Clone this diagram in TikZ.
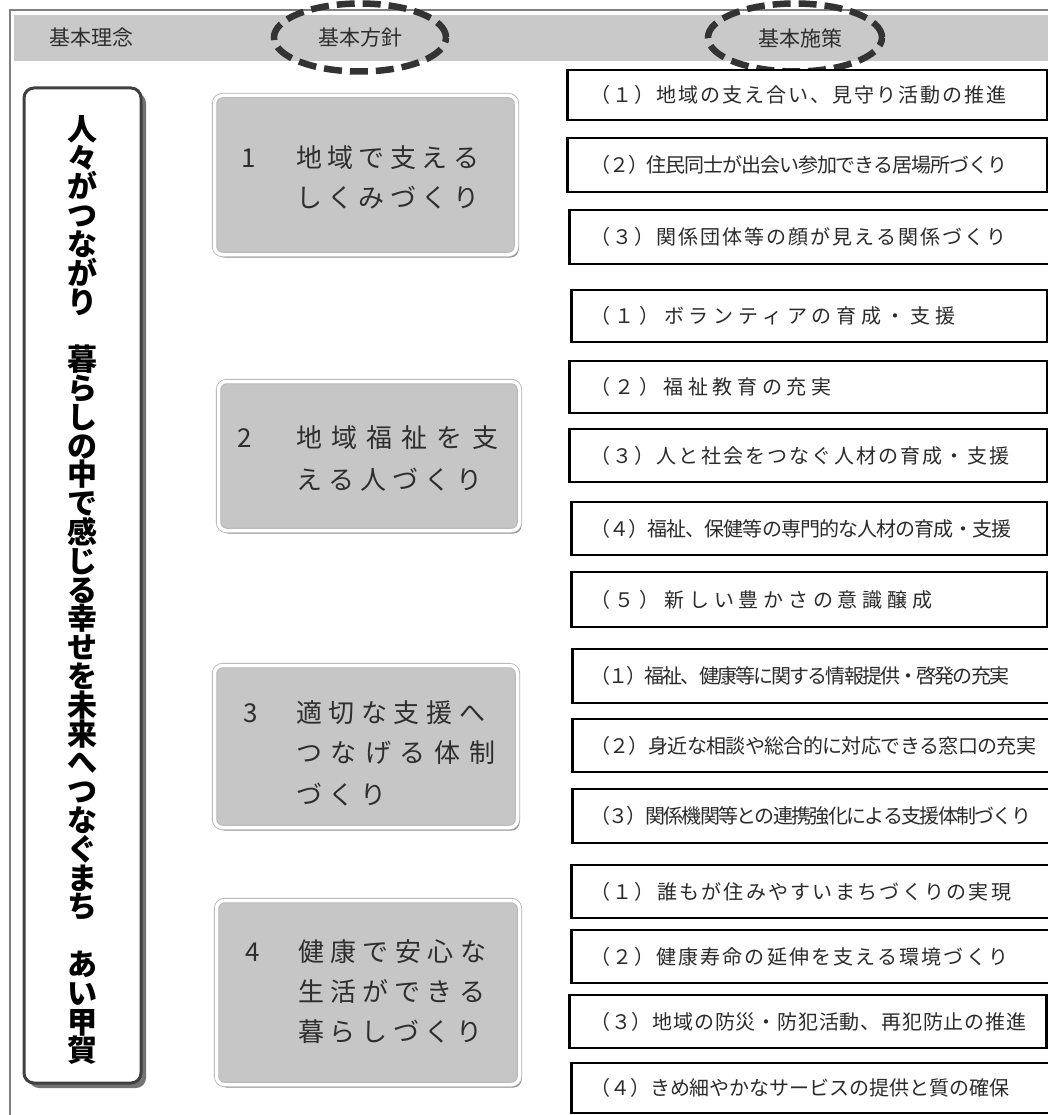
\documentclass[tikz,border=0pt]{standalone}
\usepackage{fontspec}
\setmainfont{Noto Sans CJK JP}
\newfontfamily\jp{Noto Sans CJK JP}
\usetikzlibrary{shapes.geometric,shadows}
\pgfdeclarelayer{bg}
\pgfsetlayers{bg,main}
\definecolor{rtxt}{HTML}{2B2B2B}
\definecolor{ptxt}{HTML}{2E2E2E}
\definecolor{hdrgray}{HTML}{C9C9C9}
\definecolor{pgray}{HTML}{C6C6C6}
\definecolor{frm}{HTML}{808080}
\definecolor{ellc}{HTML}{333333}
\makeatletter
\def\spr@ad#1{\ifx#1\relax\else#1\hskip 0pt plus 1fil minus 1fil\relax\expandafter\spr@ad\fi}
\newcommand\spreadto[2]{\hbox to #1{\spr@ad#2\relax\unskip}}
\def\vst@ck#1{\ifx#1\relax\else\hbox to 34pt{\hss#1\hss}\expandafter\vst@ck\fi}
\newcommand\vstack[1]{\vbox{\baselineskip=28.8pt\lineskiplimit=-100pt\lineskip=0pt\vst@ck#1\relax}}
\makeatother
\begin{document}
\begin{tikzpicture}[x=1pt,y=-1pt,
  frame/.style={draw=frm,line width=2pt},
  hdr/.style={fill=hdrgray,draw=none,inner sep=0,rectangle},
  htext/.style={font=\jp\fontsize{21}{24}\selectfont,text=ptxt,inner sep=0},
  dashell/.style={ellipse,draw=ellc,line width=6.5pt,dash pattern=on 18pt off 8pt,inner sep=0},
  lbox/.style={rectangle,rounded corners=10pt,draw=black!75,line width=3pt,fill=white,inner sep=0,
    drop shadow={shadow xshift=5pt,shadow yshift=-5pt,fill=black!55,opacity=1}},
  ltext/.style={font=\jp\bfseries\fontsize{30}{30}\selectfont,text=black,inner sep=0},
  pbox/.style={rectangle,rounded corners=8pt,draw=black!30,double=white,double distance=3.5pt,line width=0.8pt,
    fill=pgray,inner sep=0,drop shadow={shadow xshift=2pt,shadow yshift=-3pt,fill=black!45,opacity=1}},
  ptext/.style={font=\jp\fontsize{26}{30}\selectfont,text=ptxt,inner sep=0},
  rbox/.style={rectangle,draw=black,line width=2.6pt,fill=white,inner sep=0,anchor=west},
  rtext/.style={font=\jp\fontsize{20}{24}\selectfont,text=rtxt,inner sep=0,anchor=west},
  mainline/.style={draw=black,line width=4pt,line join=miter},
  subline/.style={draw=black,line width=1.4pt}]
\useasboundingbox (0,0) rectangle (1048,1115);
\fill[white] (0,0) rectangle (1048,1115);
% frame and header
\draw[frame] (9.5,1116) -- (9.5,10) -- (1049,10);
\node[hdr,minimum width=1036,minimum height=46,anchor=north west] (H) at (14,15) {};
\node[htext] (h1) at (91,38) {基本理念};
\node[htext] (h2) at (360,38) {基本方針};
\node[htext] (h3) at (800,38) {基本施策};
\node[dashell,minimum width=172,minimum height=68] (E1) at (360,37.5) {};
\node[dashell,minimum width=174,minimum height=68] (E2) at (795,37.5) {};
% left box
\node[lbox,minimum width=117,minimum height=995] (L) at (82.5,585.5) {};
\node[ltext] (LT) at (82,590) {\vstack{人々がつながり　暮らしの中で感じる幸せを未来へつなぐまち　あい甲賀}};
% policy boxes
\node[pbox,minimum width=302,minimum height=159] (P1) at (365.5,175) {};
\node[pbox,minimum width=301,minimum height=149] (P2) at (369,456) {};
\node[pbox,minimum width=303,minimum height=162] (P3) at (366,746.5) {};
\node[pbox,minimum width=303,minimum height=184] (P4) at (368,992.5) {};
\node[ptext] (P1n) at (249,158) {1};
\node[ptext,anchor=west] (P1a) at (296,158) {\spreadto{183pt}{地域で支える}};
\node[ptext,anchor=west] (P1b) at (296,198) {\spreadto{183pt}{しくみづくり}};
\node[ptext] (P2n) at (245,438) {2};
\node[ptext,anchor=west] (P2a) at (296,438) {\spreadto{202pt}{地域福祉を支}};
\node[ptext,anchor=west] (P2b) at (296,480) {\spreadto{186pt}{える人づくり}};
\node[ptext] (P3n) at (251,713) {3};
\node[ptext,anchor=west] (P3a) at (296,713) {\spreadto{189pt}{適切な支援へ}};
\node[ptext,anchor=west] (P3b) at (296,753) {\spreadto{199pt}{つなげる体制}};
\node[ptext,anchor=west] (P3c) at (296,795) {\spreadto{90pt}{づくり}};
\node[ptext] (P4n) at (253,952) {4};
\node[ptext,anchor=west] (P4a) at (298,952) {\spreadto{188pt}{健康で安心な}};
\node[ptext,anchor=west] (P4b) at (298,992) {\spreadto{187pt}{生活ができる}};
\node[ptext,anchor=west] (P4c) at (298,1032) {\spreadto{184pt}{暮らしづくり}};
% right boxes
\node[rbox,minimum width=480,minimum height=50] (R11) at (566,95) {};
\node[rbox,minimum width=480,minimum height=54] (R12) at (566,165) {};
\node[rbox,minimum width=484,minimum height=54] (R13) at (568,237) {};
\node[rbox,minimum width=476,minimum height=52] (R21) at (570,316) {};
\node[rbox,minimum width=478,minimum height=52] (R22) at (568,387) {};
\node[rbox,minimum width=478,minimum height=53] (R23) at (568,455.5) {};
\node[rbox,minimum width=476,minimum height=53] (R24) at (570,528.5) {};
\node[rbox,minimum width=476,minimum height=55] (R25) at (570,599.5) {};
\node[rbox,minimum width=481,minimum height=54] (R31) at (571,676) {};
\node[rbox,minimum width=481,minimum height=53] (R32) at (571,745.5) {};
\node[rbox,minimum width=481,minimum height=54] (R33) at (571,816) {};
\node[rbox,minimum width=482,minimum height=53] (R41) at (570,891.5) {};
\node[rbox,minimum width=482,minimum height=53] (R42) at (570,956.5) {};
\node[rbox,minimum width=477,minimum height=53] (R43) at (568,1021.5) {};
\node[rbox,minimum width=482,minimum height=50] (R44) at (570,1088) {};
\node[rtext] (T11) at (590,95) {\spreadto{416pt}{（１）地域の支え合い、見守り活動の推進}};
\node[rtext] (T12) at (590,165) {\spreadto{417pt}{（２）住民同士が出会い参加できる居場所づくり}};
\node[rtext] (T13) at (590,237) {\spreadto{416pt}{（３）関係団体等の顔が見える関係づくり}};
\node[rtext] (T21) at (590,316) {\spreadto{365pt}{（１）ボランティアの育成・支援}};
\node[rtext] (T22) at (590,387) {\spreadto{241pt}{（２）福祉教育の充実}};
\node[rtext] (T23) at (590,455.5) {\spreadto{419pt}{（３）人と社会をつなぐ人材の育成・支援}};
\node[rtext] (T24) at (590,528.5) {\spreadto{421pt}{（４）福祉、保健等の専門的な人材の育成・支援}};
\node[rtext] (T25) at (590,599.5) {\spreadto{342pt}{（５）新しい豊かさの意識醸成}};
\node[rtext] (T31) at (590,676) {\spreadto{419pt}{（１）福祉、健康等に関する情報提供・啓発の充実}};
\node[rtext] (T32) at (590,745.5) {\spreadto{446pt}{（２）身近な相談や総合的に対応できる窓口の充実}};
\node[rtext] (T33) at (590,816) {\spreadto{441pt}{（３）関係機関等との連携強化による支援体制づくり}};
\node[rtext] (T41) at (590,891.5) {\spreadto{421pt}{（１）誰もが住みやすいまちづくりの実現}};
\node[rtext] (T42) at (590,956.5) {\spreadto{418pt}{（２）健康寿命の延伸を支える環境づくり}};
\node[rtext] (T43) at (590,1021.5) {\spreadto{436pt}{（３）地域の防災・防犯活動、再犯防止の推進}};
\node[rtext] (T44) at (590,1088) {\spreadto{419pt}{（４）きめ細やかなサービスの提供と質の確保}};
% connectors
\coordinate (B1) at (181,168);
\coordinate (B2) at (181,453);
\coordinate (B3) at (181,744);
\coordinate (B4) at (181,990);
\coordinate (BL) at (181,520);
\coordinate (G1s) at (539,170);
\coordinate (G2x) at (543,0);
\coordinate (G3x) at (542,0);
\coordinate (G4x) at (543,0);
\begin{pgfonlayer}{bg}
\draw[mainline] (P1.west |- B1) -- (B1) -- (B4) -- (P4.west |- B4);
\draw[mainline] (B2) -- (P2.west |- B2);
\draw[mainline] (B3) -- (P3.west |- B3);
\draw[mainline] (L.east |- BL) -- (BL);
% group 1
\draw[subline] (P1.east |- G1s) -- (G1s -| R12.west);
\draw[subline] (R11.west) -| (R13.west -| G1s) -- (R13.west);
% group 2
\draw[subline] (R21.west) -| (R25.west -| G2x) -- (R25.west);
\draw[subline] (G2x |- R22.west) -- (R22.west);
\draw[subline] (G2x |- R24.west) -- (R24.west);
\draw[subline] (P2.east) -- (P2.east -| R23.west);
% group 3
\draw[subline] (R31.west) -| (R33.west -| G3x) -- (R33.west);
\draw[subline] (P3.east) -- (P3.east -| R32.west);
% group 4
\draw[subline] (R41.west) -| (R44.west -| G4x) -- (R44.west);
\draw[subline] (G4x |- R42.west) -- (R42.west);
\draw[subline] (G4x |- R43.west) -- (R43.west);
\draw[subline] (P4.east) -- (P4.east -| R42.west);
\end{pgfonlayer}
\end{tikzpicture}
\end{document}
